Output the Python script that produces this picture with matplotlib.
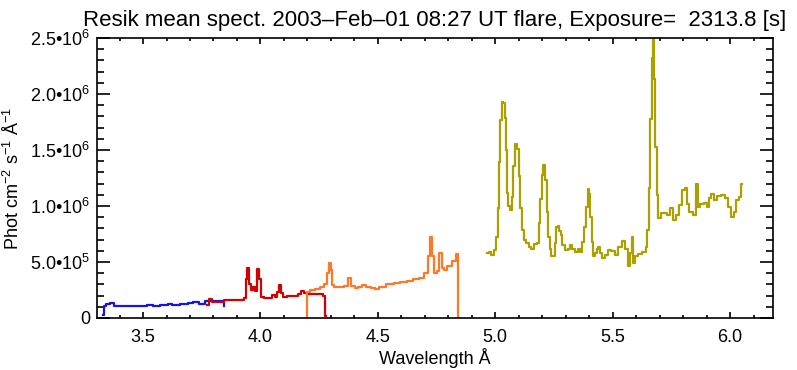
import matplotlib
matplotlib.use("Agg")
import matplotlib.pyplot as plt
from matplotlib.ticker import MultipleLocator, FuncFormatter

plt.rcParams['font.family'] = ['Liberation Sans', 'DejaVu Sans']
plt.rcParams['mathtext.fontset'] = 'custom'
plt.rcParams['mathtext.rm'] = 'Liberation Sans'
plt.rcParams['mathtext.it'] = 'Liberation Sans'
plt.rcParams['mathtext.default'] = 'regular'

# channel 1 (blue)
wl_ch1 = [3.330, 3.334, 3.351, 3.368, 3.385, 3.423, 3.466, 3.508, 3.530, 3.551,
          3.594, 3.615, 3.636, 3.679, 3.700, 3.729, 3.750, 3.778, 3.794, 3.811,
          3.828, 3.841, 3.845]
fl_ch1 = [3.0e4, 1.05e5, 1.25e5, 1.3e5, 1.07e5, 1.05e5, 1.1e5, 1.08e5, 1.2e5, 1.1e5,
          1.15e5, 1.25e5, 1.15e5, 1.25e5, 1.3e5, 1.45e5, 1.25e5, 1.5e5, 1.55e5, 1.5e5,
          1.56e5, 1.55e5, 1.05e5]

# channel 2 (red)
wl_ch2 = [3.771, 3.788, 3.798, 3.828, 3.858, 3.892, 3.926, 3.934, 3.942, 3.947,
          3.956, 3.964, 3.973, 3.981, 3.991, 3.998, 4.007, 4.024, 4.041, 4.054,
          4.066, 4.079, 4.083, 4.092, 4.100, 4.126, 4.152, 4.169, 4.180, 4.190,
          4.211, 4.237, 4.262, 4.275, 4.278]
fl_ch2 = [1.16e5, 1.67e5, 1.45e5, 1.45e5, 1.6e5, 1.62e5, 1.62e5, 1.8e5, 3.5e5, 4.46e5,
          3.0e5, 2.5e5, 2.8e5, 2.4e5, 4.37e5, 3.5e5, 1.9e5, 1.8e5, 1.75e5, 2.05e5,
          1.85e5, 2.3e5, 2.95e5, 2.2e5, 1.9e5, 1.92e5, 1.95e5, 2.1e5, 2.4e5, 2.25e5,
          2.1e5, 2.15e5, 2.15e5, 2.0e5, 2.0e4]

# channel 3 (orange)
wl_ch3 = [4.197, 4.200, 4.220, 4.245, 4.266, 4.279, 4.288, 4.296, 4.303, 4.308,
          4.322, 4.347, 4.369, 4.381, 4.394, 4.410, 4.424, 4.438, 4.458, 4.480,
          4.495, 4.518, 4.552, 4.582, 4.608, 4.637, 4.666, 4.688, 4.708, 4.718,
          4.727, 4.735, 4.744, 4.756, 4.769, 4.777, 4.786, 4.807, 4.824, 4.841,
          4.846]
fl_ch3 = [1.0e4, 2.35e5, 2.5e5, 2.55e5, 2.75e5, 3.0e5, 4.0e5, 4.9e5, 4.3e5, 2.95e5,
          2.8e5, 2.8e5, 2.9e5, 3.55e5, 2.85e5, 2.65e5, 2.75e5, 2.95e5, 2.75e5, 2.65e5,
          2.6e5, 2.8e5, 3.0e5, 3.1e5, 3.25e5, 3.3e5, 3.45e5, 3.6e5, 4.0e5, 5.5e5,
          7.2e5, 5.5e5, 4.0e5, 4.2e5, 5.8e5, 4.5e5, 4.3e5, 4.6e5, 5.1e5, 5.7e5,
          0.0]

# channel 4 (olive)
wl_ch4 = [4.966, 4.978, 4.990, 4.999, 5.007, 5.013, 5.017, 5.025, 5.031, 5.037,
          5.042, 5.046, 5.053, 5.060, 5.066, 5.074, 5.080, 5.088, 5.100, 5.105,
          5.108, 5.117, 5.127, 5.137, 5.148, 5.160, 5.174, 5.184, 5.188, 5.194,
          5.202, 5.208, 5.216, 5.222, 5.228, 5.236, 5.243, 5.252, 5.256, 5.264,
          5.270, 5.276, 5.283, 5.290, 5.301, 5.315, 5.323, 5.333, 5.344, 5.358,
          5.368, 5.375, 5.382, 5.390, 5.396, 5.404, 5.407, 5.414, 5.421, 5.429,
          5.436, 5.443, 5.453, 5.460, 5.474, 5.485, 5.503, 5.514, 5.528, 5.548,
          5.560, 5.571, 5.578, 5.584, 5.591, 5.603, 5.617, 5.635, 5.645, 5.652,
          5.659, 5.663, 5.669, 5.676, 5.680, 5.685, 5.690, 5.699, 5.709, 5.723,
          5.737, 5.752, 5.761, 5.775, 5.787, 5.801, 5.812, 5.821, 5.832, 5.851,
          5.858, 5.865, 5.879, 5.897, 5.905, 5.915, 5.926, 5.936, 5.950, 5.971,
          5.986, 5.997, 6.009, 6.021, 6.033, 6.042, 6.050]
fl_ch4 = [5.83e5, 5.9e5, 5.6e5, 6.07e5, 7.2e5, 9.85e5, 1.39e6, 1.77e6, 1.93e6, 1.92e6,
          1.79e6, 1.5e6, 1.12e6, 1.0e6, 9.6e5, 1.08e6, 1.36e6, 1.55e6, 1.51e6, 1.27e6,
          9.8e5, 7.86e5, 7.0e5, 6.67e5, 6.37e5, 6.2e5, 6.6e5, 6.67e5, 8.45e5, 1.06e6,
          1.28e6, 1.37e6, 1.23e6, 9.5e5, 7.26e5, 6.2e5, 5.5e5, 5.5e5, 6.67e5, 8.15e5,
          8.24e5, 7.8e5, 7.4e5, 6.5e5, 6.07e5, 6.2e5, 6.5e5, 6.2e5, 5.9e5, 6.2e5,
          5.9e5, 6.8e5, 8.15e5, 9.9e5, 1.15e6, 1.11e6, 9.05e5, 6.8e5, 5.54e5, 5.77e5,
          6.2e5, 6.37e5, 5.8e5, 5.33e5, 5.6e5, 6.07e5, 6.0e5, 5.6e5, 6.3e5, 6.9e5,
          6.2e5, 4.6e5, 5.77e5, 7.26e5, 4.9e5, 5.5e5, 5.7e5, 5.9e5, 6.37e5, 7.86e5,
          1.16e6, 1.78e6, 2.32e6, 2.5e6, 2.13e6, 1.53e6, 1.1e6, 8.9e5, 9.4e5, 9.35e5,
          9.2e5, 9.8e5, 8.75e5, 9.2e5, 1.01e6, 1.14e6, 1.16e6, 1.02e6, 9.5e5, 9.2e5,
          1.2e6, 9.95e5, 1.02e6, 1.03e6, 9.95e5, 1.07e6, 1.11e6, 1.05e6, 1.09e6, 1.1e6,
          1.07e6, 9.95e5, 9.05e5, 9.5e5, 1.05e6, 1.08e6, 1.2e6]

channels = [(wl_ch1, fl_ch1, '#1414e6'),
            (wl_ch2, fl_ch2, '#d20000'),
            (wl_ch3, fl_ch3, '#ff7828'),
            (wl_ch4, fl_ch4, '#aaa000')]

W, H = 797, 370
fig = plt.figure(figsize=(W / 100, H / 100), dpi=100)
ax = fig.add_axes([97 / W, 1 - 318 / H, (773 - 97) / W, (318 - 38) / H])

for wl, fl, col in channels:
    ax.plot(wl, fl, color=col, lw=1.6, drawstyle='steps-mid')

ax.set_xlim(3.304, 6.183)
ax.set_ylim(0, 2.5e6)

ax.xaxis.set_major_locator(MultipleLocator(0.5))
ax.xaxis.set_minor_locator(MultipleLocator(0.1))
ax.yaxis.set_major_locator(MultipleLocator(5e5))
ax.yaxis.set_minor_locator(MultipleLocator(1e5))


def ylab(v, pos):
    if v == 0:
        return '0'
    e = 0
    m = v
    while m >= 10:
        m /= 10
        e += 1
    return '%.1f\u2022' % m + '10$^{%d}$' % e


ax.yaxis.set_major_formatter(FuncFormatter(ylab))
ax.xaxis.set_major_formatter(FuncFormatter(lambda v, p: '%.1f' % v))

ax.tick_params(axis='both', which='both', direction='in', top=True, right=True,
               width=1.2, labelsize=13, colors='black')
ax.tick_params(axis='x', which='major', length=5.6 * 0.72, pad=8)
ax.tick_params(axis='x', which='minor', length=2.8 * 0.72)
ax.tick_params(axis='y', which='major', length=13.5 * 0.72, pad=5)
ax.tick_params(axis='y', which='minor', length=6.8 * 0.72)
for s in ax.spines.values():
    s.set_linewidth(1.2)

ax.set_xlabel('Wavelength \u00c5', fontsize=13, labelpad=1)
ax.set_ylabel('Phot cm$^{-2}$ s$^{-1}$ \u00c5$^{-1}$', fontsize=13, labelpad=5)

fig.text(435 / W, 1 - 26 / H,
         'Resik mean spect. 2003\u2013Feb\u201301 08:27 UT flare, Exposure=  2313.8 [s]',
         ha='center', va='baseline', fontsize=16)

fig.savefig('out.png', dpi=100)
